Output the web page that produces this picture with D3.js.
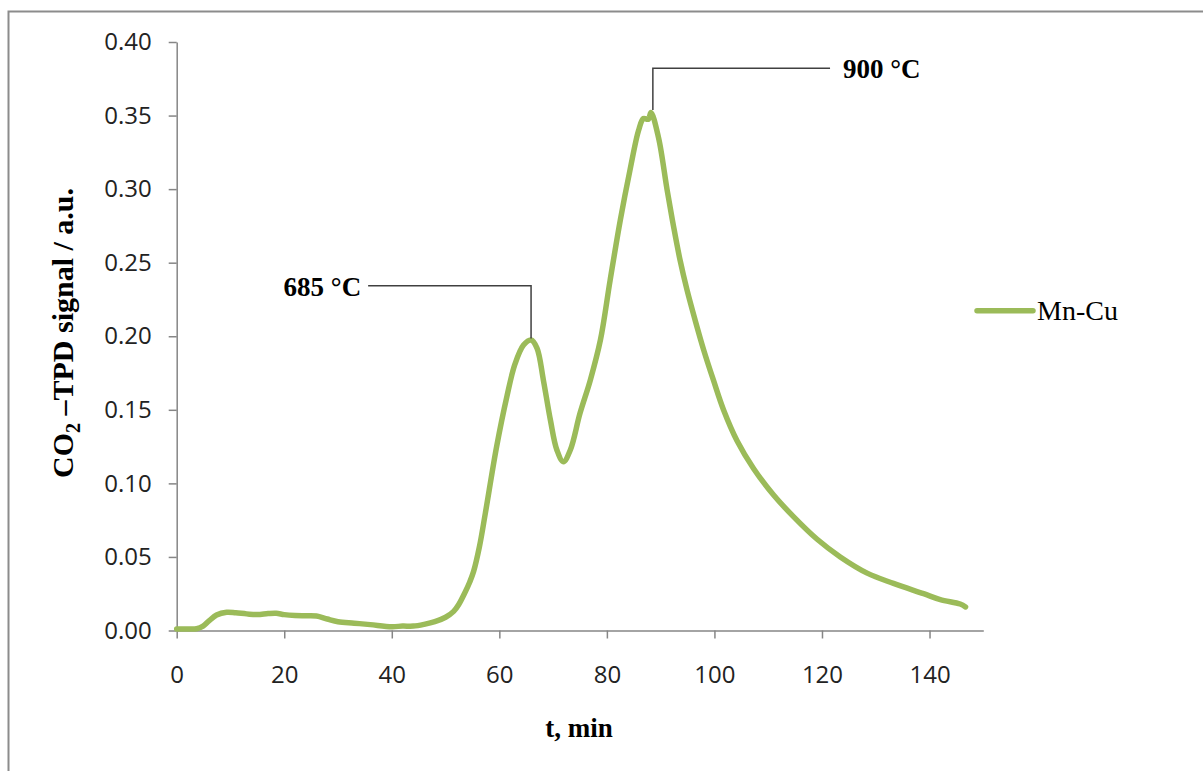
<!DOCTYPE html>
<html>
<head>
<meta charset="utf-8">
<script src="https://cdn.jsdelivr.net/npm/d3@7"></script>
<style>
  body { margin: 0; background: #fff; }
  .tick text { font-family: "Open Sans", sans-serif; font-size: 24px; fill: #222; }
  .axis path, .axis line { stroke: #868686; stroke-width: 1.5; }
</style>
</head>
<body>
<div id="chart"></div>
<script>
// svg size
var svgWidth = 1203;
var svgHeight = 771;

// plot box
var plot = { left: 176.7, right: 983.3, top: 42, bottom: 630.5 };

// data: time (min) and CO2 signal
var timeMin = [0, 2, 3.7, 4.9, 6, 7.4, 9.3, 11, 13, 15, 17, 18.5, 20, 22, 24, 26, 28, 30, 33, 36,
  40, 42, 44, 46, 48, 50, 51.5, 52.5, 53.5, 54.5, 55.2, 56.3, 57.4, 59.5, 61.4, 62.9, 64.5, 65.9,
  67, 68.2, 69.5, 70.7, 71.9, 73.2, 75, 76.9, 78.8, 80.6, 82.5, 84.3, 85.9, 86.8, 87.7, 88.2,
  89.6, 91.2, 92.4, 93.6, 94.9, 96.4, 98, 99.8, 101.7, 104.2, 107.3, 111, 114.7, 119.1, 123.4,
  128.4, 133.3, 138.9, 142, 145.7, 146.7];
var signal = [0.001, 0.001, 0.0012, 0.003, 0.0065, 0.0105, 0.0124, 0.012, 0.0113, 0.0108, 0.0115,
  0.0117, 0.0108, 0.0102, 0.0100, 0.0098, 0.0078, 0.006, 0.005, 0.004, 0.0026, 0.003, 0.003,
  0.0042, 0.006, 0.009, 0.013, 0.018, 0.025, 0.033, 0.040, 0.057, 0.0798, 0.1251, 0.159, 0.181,
  0.194, 0.1975, 0.192, 0.170, 0.143, 0.1227, 0.1147, 0.1227, 0.1476, 0.170, 0.1975, 0.238,
  0.279, 0.313, 0.340, 0.348, 0.3475, 0.352, 0.335, 0.2995, 0.2746, 0.2519, 0.2315, 0.2111,
  0.1907, 0.1703, 0.1499, 0.129, 0.110, 0.0921, 0.0774, 0.062, 0.050, 0.039, 0.032, 0.025,
  0.021, 0.018, 0.016];

var xTicks = [0, 20, 40, 60, 80, 100, 120, 140];
var yTicks = [0, 0.05, 0.10, 0.15, 0.20, 0.25, 0.30, 0.35, 0.40];

// peak labels: peak point and height of the leader elbow
var peakLabels = ["685 °C", "900 °C"];
var peakT = [65.9, 88.55];
var peakV = [0.1985, 0.3538];
var elbowV = [0.2344, 0.3822];
var elbowEndT = [35.6, 121.5];

var seriesName = "Mn-Cu";
var green = "#9BBB59";

var svg = d3.select("#chart")
  .append("svg")
  .attr("width", svgWidth)
  .attr("height", svgHeight);

// outer frame (only top and left visible)
svg.append("rect")
  .attr("x", 8.5).attr("y", 11.5)
  .attr("width", 1300).attr("height", 900)
  .attr("fill", "none")
  .attr("stroke", "#8c8c8c")
  .attr("stroke-width", 2);

var x = d3.scaleLinear().domain([0, 150]).range([plot.left, plot.right]);
var y = d3.scaleLinear().domain([0, 0.40]).range([plot.bottom, plot.top]);

// x axis
svg.append("g")
  .classed("axis", true)
  .attr("transform", `translate(0, ${plot.bottom})`)
  .call(d3.axisBottom(x).tickValues(xTicks).tickSize(8).tickPadding(27).tickSizeOuter(0))
  .call(g => g.selectAll(".tick text").attr("dy", "0.71em"));

// y axis
svg.append("g")
  .classed("axis", true)
  .attr("transform", `translate(${plot.left}, 0)`)
  .call(d3.axisLeft(y).tickValues(yTicks).tickFormat(d3.format(".2f")).tickSize(8).tickPadding(17).tickSizeOuter(0));

// series line
var pts = timeMin.map((t, i) => [t, signal[i]]);
var line = d3.line()
  .x(d => x(d[0]))
  .y(d => y(d[1]))
  .curve(d3.curveCatmullRom.alpha(0.5));

svg.append("path")
  .datum(pts)
  .attr("d", line)
  .attr("fill", "none")
  .attr("stroke", green)
  .attr("stroke-width", 5.5)
  .attr("stroke-linejoin", "round")
  .attr("stroke-linecap", "round");

// peak leaders
peakLabels.forEach((lab, i) => {
  svg.append("path")
    .attr("d", `M${x(elbowEndT[i])},${y(elbowV[i])}H${x(peakT[i])}V${y(peakV[i])}`)
    .attr("fill", "none")
    .attr("stroke", "#404040")
    .attr("stroke-width", 1.5);

  var left = i === 0;
  svg.append("text")
    .attr("x", left ? x(elbowEndT[i]) - 7 : x(elbowEndT[i]) + 13)
    .attr("y", y(elbowV[i]) + 10)
    .attr("text-anchor", left ? "end" : "start")
    .attr("font-family", "Liberation Serif, serif")
    .attr("font-weight", "bold")
    .attr("font-size", 27)
    .text(lab);
});

// axis titles
svg.append("text")
  .attr("x", 579)
  .attr("y", 737)
  .attr("text-anchor", "middle")
  .attr("font-family", "Liberation Serif, serif")
  .attr("font-weight", "bold")
  .attr("font-size", 27)
  .text("t, min");

var yTitle = svg.append("text")
  .attr("transform", "translate(73, 333) rotate(-90)")
  .attr("text-anchor", "middle")
  .attr("font-family", "Liberation Serif, serif")
  .attr("font-weight", "bold")
  .attr("font-size", 30);
yTitle.append("tspan").text("CO");
yTitle.append("tspan").attr("font-size", 20).attr("dy", 7).text("2");
yTitle.append("tspan").attr("dy", -7).text(" \u2013TPD signal / a.u.");

// legend
svg.append("line")
  .attr("x1", 977).attr("x2", 1033)
  .attr("y1", 310.7).attr("y2", 310.7)
  .attr("stroke", green)
  .attr("stroke-width", 5.5)
  .attr("stroke-linecap", "round");

svg.append("text")
  .attr("x", 1037)
  .attr("y", 319.5)
  .attr("font-family", "Liberation Serif, serif")
  .attr("font-size", 28)
  .text(seriesName);
</script>
</body>
</html>
